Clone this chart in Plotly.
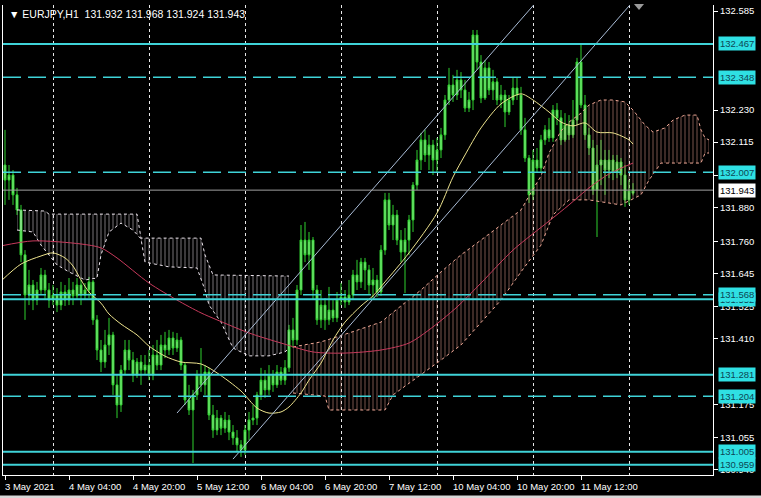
import plotly.graph_objects as go

# ---------------- data ----------------
opens = [131.908,132.033,131.979,131.997,131.926,131.872,131.711,131.567,131.603,131.549,
131.585,131.639,131.585,131.549,131.567,131.531,131.578,131.549,131.585,131.564,
131.603,131.567,131.585,131.614,131.478,131.370,131.327,131.388,131.424,131.245,
131.173,131.298,131.370,131.334,131.280,131.327,131.298,131.316,131.280,131.352,
131.316,131.388,131.370,131.413,131.377,131.406,131.316,131.191,131.155,131.209,
131.280,131.245,131.291,131.137,131.083,131.126,131.090,131.119,131.076,131.055,
131.030,131.012,131.083,131.119,131.126,131.209,131.262,131.227,131.280,131.245,
131.291,131.262,131.306,131.442,131.406,131.585,131.764,131.711,131.764,131.585,
131.478,131.531,131.478,131.513,131.485,131.549,131.560,131.542,131.567,131.639,
131.614,131.685,131.657,131.603,131.621,131.578,131.728,131.908,131.818,131.854,
131.764,131.721,131.764,131.836,131.961,132.051,132.123,132.069,132.105,132.051,
132.087,132.141,132.266,132.320,132.284,132.338,132.302,132.237,132.266,132.499,
132.402,132.273,132.381,132.302,132.331,132.266,132.284,132.223,132.266,132.309,
132.284,132.159,132.058,131.926,132.051,132.022,132.123,132.159,132.130,132.230,
132.202,132.123,132.176,132.141,132.194,132.402,132.248,132.141,132.094,131.943,
132.033,132.051,132.015,132.051,132.008,132.044,131.997,131.908,131.932]
highs = [132.087,132.159,132.033,132.015,131.951,131.890,131.728,131.657,131.621,131.614,
131.664,131.657,131.610,131.603,131.592,131.614,131.603,131.628,131.614,131.628,
131.621,131.610,131.632,131.621,131.495,131.406,131.442,131.485,131.435,131.280,
131.316,131.406,131.406,131.363,131.341,131.352,131.352,131.370,131.388,131.406,
131.424,131.435,131.442,131.435,131.431,131.417,131.327,131.245,131.227,131.298,
131.377,131.316,131.306,131.173,131.155,131.137,131.148,131.137,131.101,131.083,
131.047,131.101,131.148,131.173,131.220,131.306,131.298,131.316,131.298,131.316,
131.309,131.334,131.460,131.485,131.603,131.818,131.829,131.793,131.775,131.603,
131.585,131.556,131.596,131.549,131.578,131.610,131.585,131.621,131.657,131.693,
131.700,131.700,131.675,131.664,131.639,131.746,131.933,131.933,131.890,131.872,
131.800,131.807,131.854,131.972,132.087,132.148,132.159,132.141,132.123,132.130,
132.166,132.284,132.381,132.356,132.374,132.366,132.338,132.295,132.517,132.517,
132.427,132.409,132.402,132.374,132.345,132.320,132.302,132.284,132.348,132.348,
132.313,132.202,132.069,132.087,132.094,132.141,132.176,132.202,132.248,132.255,
132.230,132.219,132.212,132.266,132.417,132.470,132.284,132.166,132.123,132.105,
132.123,132.087,132.087,132.069,132.069,132.058,132.033,131.979,131.968]
lows = [131.890,131.890,131.908,131.890,131.854,131.685,131.478,131.531,131.513,131.531,
131.567,131.549,131.521,131.531,131.506,131.513,131.528,131.531,131.531,131.549,
131.531,131.549,131.556,131.460,131.334,131.291,131.306,131.352,131.209,131.126,
131.148,131.280,131.298,131.255,131.270,131.245,131.280,131.262,131.262,131.298,
131.298,131.341,131.352,131.352,131.363,131.298,131.173,131.137,130.965,131.191,
131.220,131.209,131.119,131.055,131.065,131.065,131.073,131.047,131.030,131.004,
130.987,130.994,131.047,131.101,131.101,131.191,131.198,131.209,131.220,131.234,
131.245,131.245,131.291,131.377,131.388,131.567,131.685,131.657,131.549,131.460,
131.449,131.442,131.460,131.470,131.470,131.531,131.521,131.531,131.549,131.585,
131.592,131.585,131.567,131.556,131.560,131.564,131.711,131.800,131.764,131.746,
131.685,131.574,131.711,131.793,131.943,132.015,132.044,132.015,131.997,132.008,
132.058,132.123,132.248,132.259,132.266,132.273,132.223,132.223,132.230,132.374,
132.255,132.266,132.284,132.266,132.248,132.237,132.169,132.212,132.248,132.266,
132.141,132.044,131.897,131.908,132.008,132.008,132.105,132.116,132.116,132.176,
132.105,132.116,132.123,132.130,132.176,132.237,132.123,132.069,131.926,131.775,
131.961,131.926,131.986,131.979,131.986,131.961,131.883,131.890,131.924]
closes = [132.033,131.979,131.997,131.926,131.872,131.711,131.567,131.603,131.549,131.585,
131.639,131.585,131.549,131.567,131.531,131.578,131.549,131.585,131.564,131.603,
131.567,131.585,131.614,131.478,131.370,131.327,131.388,131.424,131.245,131.173,
131.298,131.370,131.334,131.280,131.327,131.298,131.316,131.280,131.352,131.316,
131.388,131.370,131.413,131.377,131.406,131.316,131.191,131.155,131.209,131.280,
131.245,131.291,131.137,131.083,131.126,131.090,131.119,131.076,131.055,131.030,
131.012,131.083,131.119,131.126,131.209,131.262,131.227,131.280,131.245,131.291,
131.262,131.306,131.442,131.406,131.585,131.764,131.711,131.764,131.585,131.478,
131.531,131.478,131.513,131.485,131.549,131.560,131.542,131.567,131.639,131.614,
131.685,131.657,131.603,131.621,131.578,131.728,131.908,131.818,131.854,131.764,
131.721,131.764,131.836,131.961,132.051,132.123,132.069,132.105,132.051,132.087,
132.141,132.266,132.320,132.284,132.338,132.302,132.237,132.266,132.499,132.402,
132.273,132.381,132.302,132.331,132.266,132.284,132.223,132.266,132.309,132.284,
132.159,132.058,131.926,132.051,132.022,132.123,132.159,132.130,132.230,132.202,
132.123,132.176,132.141,132.194,132.402,132.248,132.141,132.094,131.943,132.033,
132.051,132.015,132.051,132.008,132.044,131.997,131.908,131.940,131.943]
bars = list(range(len(closes)))

ma_slow_bars = [0, 8, 20, 25, 29, 37, 44, 50, 54, 62, 70, 78, 86, 95, 102, 107, 114, 120, 128, 137, 142, 147, 152, 158]
ma_slow_vals = [131.743, 131.761, 131.750, 131.736, 131.700, 131.610, 131.549, 131.503, 131.478, 131.431, 131.395,
                131.363, 131.359, 131.370, 131.395, 131.442, 131.524, 131.610, 131.728, 131.832, 131.890, 131.951, 132.001, 132.040]
ma_fast_bars = [0, 5, 10, 13, 16, 18, 20, 22, 25, 27, 30, 34, 37, 41, 45, 50, 54, 60, 64, 67, 70, 72, 75, 77, 80, 83, 86,
                90, 93, 96, 102, 109, 113, 116, 120, 125, 130, 133, 137, 140, 143, 146, 149, 153, 157, 158]
ma_fast_vals = [131.617, 131.678, 131.707, 131.718, 131.700, 131.671, 131.621, 131.578, 131.538, 131.499, 131.463,
                131.424, 131.384, 131.348, 131.327, 131.320, 131.288, 131.223, 131.162, 131.144, 131.148, 131.166,
                131.216, 131.262, 131.323, 131.406, 131.470, 131.528, 131.564, 131.614, 131.718, 131.861, 131.990,
                132.069, 132.166, 132.252, 132.288, 132.266, 132.223, 132.187, 132.173, 132.184, 132.151, 132.148,
                132.123, 132.108]

# Ichimoku cloud (span B above span A: light cloud; span A above B: peach cloud)
span_b_light_bars = [4, 11, 12, 34, 35, 50, 51, 53, 72]
span_b_light_vals = [131.872, 131.868, 131.857, 131.857, 131.771, 131.771, 131.711, 131.639, 131.635]
span_a_light_bars = [4, 8, 10, 12, 14, 17, 21, 24, 25, 27, 30, 33, 35, 36, 42, 49, 51, 52, 55, 58, 62, 67, 71, 72]
span_a_light_vals = [131.800, 131.793, 131.746, 131.711, 131.675, 131.650, 131.621, 131.628, 131.711, 131.793,
                     131.825, 131.800, 131.768, 131.685, 131.668, 131.664, 131.585, 131.531, 131.470, 131.377,
                     131.349, 131.349, 131.363, 131.377]
span_a_peach_bars = [73, 80, 87, 95, 100, 105, 110, 115, 120, 125, 130, 132, 135, 137, 140, 142, 145, 147, 150, 153,
                     156, 158, 161, 163, 166, 168, 171, 174, 175, 176, 177]
span_a_peach_vals = [131.381, 131.399, 131.431, 131.470, 131.528, 131.585, 131.650, 131.711, 131.764, 131.818,
                     131.872, 131.922, 131.994, 132.076, 132.155, 132.187, 132.219, 132.248, 132.266, 132.266,
                     132.259, 132.230, 132.176, 132.151, 132.166, 132.194, 132.212, 132.212, 132.159, 132.130, 132.123]
span_b_peach_bars = [73, 81, 82, 96, 98, 105, 110, 115, 120, 125, 130, 135, 138, 142, 147, 155, 160, 162, 165, 175, 176, 177]
span_b_peach_vals = [131.216, 131.205, 131.155, 131.155, 131.209, 131.280, 131.334, 131.388, 131.470, 131.549,
                     131.650, 131.746, 131.854, 131.908, 131.908, 131.890, 131.926, 131.979, 132.040, 132.040,
                     132.076, 132.076]

# channel trend lines (anchor points)
channel_lower_bars = [58, 160]
channel_lower_vals = [130.979, 132.652]
channel_upper_bars = [44, 136]
channel_upper_vals = [131.144, 132.653]

solid_levels = [132.467, 131.552, 131.281, 131.005, 130.959]
dashed_levels = [132.348, 132.007, 131.568, 131.204]
bid_price = 131.943

# axis ticks that are not fully covered by the level labels
price_ticks = [132.585, 132.230, 132.115, 131.995, 131.880, 131.760, 131.645,
               131.525, 131.410, 131.175, 131.055, 130.940]
time_labels = ["3 May 2021", "4 May 04:00", "4 May 20:00", "5 May 12:00", "6 May 04:00",
               "6 May 20:00", "7 May 12:00", "10 May 04:00", "10 May 20:00", "11 May 12:00"]
time_label_bars = [1, 17, 33, 49, 65, 81, 97, 113, 129, 145]
day_start_bars = [13, 37, 61, 85, 109, 133, 157]
header = "\u25BC EURJPY,H1\u00a0\u00a0131.932 131.968 131.924 131.943"

# ---------------- figure ----------------
FONT = "Liberation Sans, Arial, sans-serif"
CYAN_LINE = "#3fd3d8"
CYAN_BOX = "#2fe0e3"
LIGHT = "#ece4ec"
PEACH = "#f0a896"

fig = go.Figure()

for bx, by, ax, ay, col in [
    (span_b_light_bars, span_b_light_vals, span_a_light_bars, span_a_light_vals, LIGHT),
    (span_a_peach_bars, span_a_peach_vals, span_b_peach_bars, span_b_peach_vals, PEACH),
]:
    fig.add_trace(go.Scatter(x=bx, y=by, mode="lines", hoverinfo="skip",
                             line=dict(color=col, width=1, dash="dot")))
    fig.add_trace(go.Scatter(x=ax, y=ay, mode="lines", hoverinfo="skip",
                             line=dict(color=col, width=1, dash="dot"),
                             fill="tonexty", fillcolor="rgba(0,0,0,0)",
                             fillpattern=dict(shape="|", size=4, solidity=0.25, fgcolor=col,
                                              fgopacity=0.5, fillmode="overlay")))

fig.add_trace(go.Scatter(x=ma_slow_bars, y=ma_slow_vals, mode="lines", hoverinfo="skip",
                         line=dict(color="#c83a5c", width=1, shape="spline", smoothing=0.8)))
fig.add_trace(go.Scatter(x=ma_fast_bars, y=ma_fast_vals, mode="lines", hoverinfo="skip",
                         line=dict(color="#eee48e", width=1, shape="spline", smoothing=0.8)))

fig.add_trace(go.Candlestick(
    x=bars, open=opens, high=highs, low=lows, close=closes,
    increasing=dict(line=dict(color="#2fd02f", width=1), fillcolor="#8ff08f"),
    decreasing=dict(line=dict(color="#2fd02f", width=1), fillcolor="#8ff08f"),
    whiskerwidth=0, hoverinfo="skip"))

for cx, cy in [(channel_lower_bars, channel_lower_vals), (channel_upper_bars, channel_upper_vals)]:
    fig.add_trace(go.Scatter(x=cx, y=cy, mode="lines", hoverinfo="skip",
                             line=dict(color="#a9bcd6", width=1)))

shapes = []
for lv in solid_levels:
    shapes.append(dict(type="line", xref="paper", x0=0, x1=1, yref="y", y0=lv, y1=lv,
                       line=dict(color=CYAN_LINE, width=2)))
for lv in dashed_levels:
    shapes.append(dict(type="line", xref="paper", x0=0, x1=1, yref="y", y0=lv, y1=lv,
                       line=dict(color=CYAN_LINE, width=1.5, dash="18px,7px")))
shapes.append(dict(type="line", xref="paper", x0=0, x1=1, yref="y", y0=bid_price, y1=bid_price,
                   line=dict(color="#a0a0a0", width=1)))
# chart-shift marker and window status strip
shapes.append(dict(type="path", xref="paper", yref="paper",
                   path="M 0.8887 1.002 L 0.9028 1.002 L 0.8958 0.9893 Z",
                   fillcolor="#9a9a9a", line=dict(width=0)))
shapes.append(dict(type="rect", xref="paper", yref="paper", x0=-0.01, x1=1.1, y0=-0.06, y1=-0.0435,
                   fillcolor="#d8d8d8", line=dict(width=0)))

annotations = []
label_font = dict(family=FONT, size=9.5, color="#0d4654")
for lv in sorted(solid_levels + dashed_levels):
    annotations.append(dict(xref="paper", x=1, xanchor="left", xshift=5, yref="y", y=lv,
                            yanchor="middle", text=f"{lv:.3f}", showarrow=False,
                            bgcolor=CYAN_BOX, borderpad=1, font=label_font))
annotations.append(dict(xref="paper", x=1, xanchor="left", xshift=5, yref="y", y=bid_price,
                        yanchor="middle", text=f"{bid_price:.3f}", showarrow=False,
                        bgcolor="#ffffff", borderpad=1,
                        font=dict(family=FONT, size=9.5, color="#000000")))
for tb, tl in zip(time_label_bars, time_labels):
    annotations.append(dict(xref="x", x=tb, xanchor="left", xshift=-2, yref="paper", y=0,
                            yanchor="top", yshift=-4, text=tl, showarrow=False,
                            font=dict(family=FONT, size=9.5, color="#ffffff")))
annotations.append(dict(xref="paper", x=0, xanchor="left", xshift=4, yref="paper", y=1,
                        yanchor="top", yshift=-1, text=header, showarrow=False,
                        font=dict(family=FONT, size=10.5, color="#ffffff")))

fig.update_layout(
    width=761, height=498,
    margin=dict(l=3, r=48, t=5, b=23),
    paper_bgcolor="#000000", plot_bgcolor="#000000",
    showlegend=False,
    shapes=shapes, annotations=annotations,
    xaxis=dict(range=[0.5, 178], showgrid=False, zeroline=False,
               showline=True, linecolor="#ffffff", linewidth=1,
               ticks="outside", ticklen=4, tickcolor="#ffffff",
               tickmode="array", tickvals=time_label_bars, showticklabels=False,
               rangeslider=dict(visible=False),
               minor=dict(tickmode="array", tickvals=day_start_bars, showgrid=True,
                          gridcolor="#e8e8e8", griddash="3px,3px", gridwidth=1)),
    yaxis=dict(side="right", range=[130.922, 132.6065], showgrid=False, zeroline=False,
               showline=True, mirror=True, linecolor="#ffffff", linewidth=1,
               ticks="outside", ticklen=4, tickcolor="#ffffff",
               tickmode="array", tickvals=price_ticks, tickformat=".3f",
               tickfont=dict(family=FONT, size=9.5, color="#ffffff")),
)

fig.write_html("out.html", config={"displayModeBar": False},
               post_script="document.body.style.margin='0';document.body.style.background='#000';")
